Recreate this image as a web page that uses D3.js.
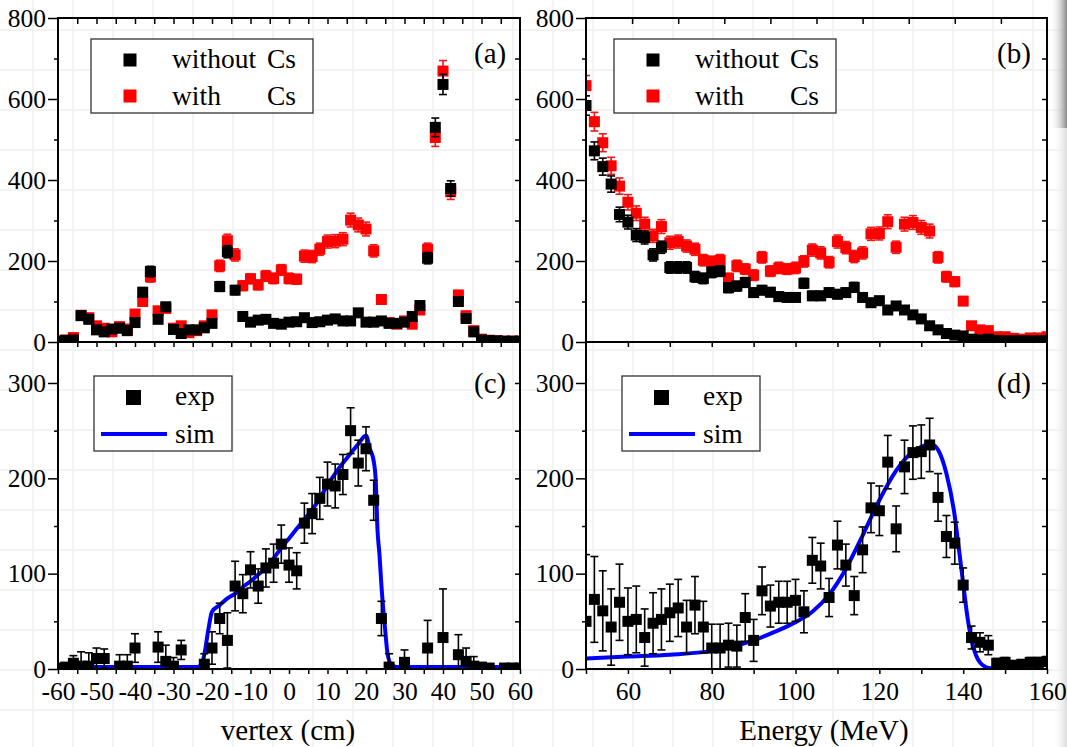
<!DOCTYPE html>
<html><head><meta charset="utf-8">
<script src="https://cdn.jsdelivr.net/npm/d3@7"></script>
<style>
body{margin:0;background:#fff}
svg{display:block}
text{font-family:"Liberation Serif","Times New Roman",serif;fill:#000}
</style>
</head><body>
<svg id="chart" width="1067" height="747"></svg>
<script>
// ---------------- DATA ----------------
// Panel (a): vertex distribution
const vertexBins = [-60,-58,-56,-54,-52,-50,-48,-46,-44,-42,-40,-38,-36,-34,-32,-30,-28,-26,-24,-22,-20,-18,-16,-14,-12,-10,-8,-6,-4,-2,0,2,4,6,8,10,12,14,16,18,20,22,24,26,28,30,32,34,36,38,40,42,44,46,48,50,52,54,56,58,60];
const vertexWithout = [2,4,5,65,56,30,25,32,34,28,48,123,174,56,87,31,21,30,30,35,46,137,223,128,63,49,54,56,46,44,49,50,60,48,50,54,57,52,52,72,49,49,52,46,46,49,63,90,207,530,636,379,100,58,25,5,4,3,2,2,2];
const vertexWithoutErr = [1,2,2,8,7,5,5,6,6,5,7,11,13,7,9,6,5,5,5,6,7,12,15,11,8,7,7,7,7,7,7,7,8,7,7,7,8,7,7,8,7,7,7,7,7,7,8,9,14,23,25,19,10,8,5,2,2,2,1,1,1];
const vertexWith = [3,5,11,66,60,40,34,25,38,32,69,100,161,77,83,34,40,23,28,40,67,188,250,215,139,156,141,163,157,178,157,155,212,211,229,248,249,254,301,289,279,225,105,48,44,52,44,79,229,505,669,371,116,65,28,7,4,3,2,2,2];
const vertexWithErr = [2,2,3,8,8,6,6,5,6,6,8,10,13,9,9,6,6,5,5,6,8,14,16,15,12,12,12,13,13,13,13,12,15,15,15,16,16,16,17,17,17,15,10,7,7,7,7,9,15,22,26,19,11,8,5,3,2,2,1,1,1];

// Panel (b): energy distribution
const energyBins = [50,52,54,56,58,60,62,64,66,68,70,72,74,76,78,80,82,84,86,88,90,92,94,96,98,100,102,104,106,108,110,112,114,116,118,120,122,124,126,128,130,132,134,136,138,140,142,144,146,148,150,152,154,156,158,160];
const energyWithout = [584,472,433,390,315,296,264,258,215,234,184,184,184,161,157,172,175,134,138,147,122,128,123,112,110,110,145,114,114,122,118,122,135,110,97,102,79,89,79,67,57,40,30,21,17,15,7,5,7,4,3,3,3,3,3,3];
const energyWithoutErr = [24,22,21,20,18,17,16,16,15,15,14,14,14,13,13,13,13,12,12,12,11,11,11,11,10,10,12,11,11,11,11,11,12,10,10,10,9,9,9,8,8,6,5,5,4,4,3,2,3,2,2,2,2,2,2,2];
const energyWith = [633,544,492,435,385,345,318,291,262,285,245,248,237,229,202,198,202,157,188,180,165,209,175,183,180,183,199,227,220,197,248,233,211,220,267,268,297,234,291,295,283,274,209,161,149,101,40,30,28,13,13,9,7,10,10,13];
const energyWithErr = [25,23,22,21,20,19,18,17,16,17,16,16,15,15,14,14,14,13,14,13,13,14,13,14,13,14,14,15,15,14,16,15,15,15,16,16,17,15,17,17,17,17,14,13,12,10,6,5,5,4,4,3,3,3,3,4];

// Panel (c): difference, vertex, exp vs sim
const vertexExpX = [-60,-58,-56,-54,-52,-50,-48,-44,-42,-40,-34,-32,-30,-28,-22,-20,-18,-16,-14,-12,-10,-8,-6,-4,-2,0,2,4,6,8,10,12,14,16,18,20,22,24,26,30,36,40,44,46,48,50,52,56,58,60];
const vertexExp = [1,2,6,3,3,11,11,3,3,22,23,8,3,20,5,22,53,30,87,79,104,87,106,111,131,109,103,153,163,179,194,192,204,250,216,231,177,53,2,7,22,33,15,8,3,2,1,1,1,1];
const vertexExpErr = [2,3,8,15,14,11,10,12,12,15,16,17,9,10,11,17,16,29,26,20,19,18,20,20,20,18,19,21,21,22,23,23,21,24,24,23,21,18,14,13,29,51,21,14,10,3,2,2,2,2];
const vertexSimX = [-60,-24,-23,-22,-21,-20,-18,-16,-14,-12,-10,-8,-6,-4,-2,0,2,4,6,8,10,12,14,16,18,20,21,22,22.5,23,23.5,24,25,25.6,26.5,28,60];
const vertexSim = [2,2,3,15,40,60,67,74,79,86,92,99,106,116,127,137,147,157,167,179,193,205,216,226,236,245,231,218,200,145,120,88,40,16,5,2,2];

// Panel (d): difference, energy, exp vs sim
const energyExp = [50,73,61,44,70,50,52,33,48,52,59,64,44,67,44,22,22,25,24,54,30,82,66,70,70,72,60,114,108,75,130,109,77,125,169,166,217,147,212,227,228,235,180,139,132,88,33,28,25,6,7,4,5,7,7,8];
const energyExpErr = [70,45,42,40,40,35,35,30,32,32,30,30,28,30,27,25,25,23,22,25,22,25,22,22,22,22,22,24,24,20,25,22,20,24,26,26,28,24,28,28,28,28,25,22,22,18,12,10,10,5,5,4,4,5,5,5];
const energySimX = [50,60,70,80,90,95,100,104,108,112,116,120,124,128,130,132,133,134,136,138,139,140,141,142,143,144,145,146,148];
const energySim = [11,13,15,19,30,39,49,60,78,105,140,177,208,228,233,236,235,230,205,160,125,90,55,30,15,7,3,1,0];

// Tick values
const vertexTickLabels = [-60,-50,-40,-30,-20,-10,0,10,20,30,40,50,60];
const energyTickLabels = [60,80,100,120,140,160];
const topYTicks = [0,200,400,600,800];
const botYTicks = [0,100,200,300];

// ---------------- DRAWING ----------------
const svg = d3.select("#chart");
const W = 1067, H = 747;
const TICK_FS = 25.5;

// faint paper grid in background
const bg = svg.append("g");
for (let x = -7; x < W; x += 40) bg.append("line").attr("x1",x).attr("x2",x).attr("y1",0).attr("y2",H).attr("stroke","#f3f3f3").attr("stroke-width",2);
for (let y = 30; y < H; y += 40) bg.append("line").attr("x1",0).attr("x2",W).attr("y1",y).attr("y2",y).attr("stroke","#f3f3f3").attr("stroke-width",2);

// right-edge page shading
const defs = svg.append("defs");
const g1 = defs.append("linearGradient").attr("id","shade1").attr("x1","0").attr("x2","1").attr("y1","0").attr("y2","0");
g1.append("stop").attr("offset","0").attr("stop-color","#fff").attr("stop-opacity",0);
g1.append("stop").attr("offset","1").attr("stop-color","#8a8a8a");
const g2 = defs.append("linearGradient").attr("id","shade2").attr("x1","0").attr("x2","1").attr("y1","0").attr("y2","0");
g2.append("stop").attr("offset","0").attr("stop-color","#fff").attr("stop-opacity",0);
g2.append("stop").attr("offset","1").attr("stop-color","#dcdcdc");
svg.append("rect").attr("x",1050).attr("y",0).attr("width",17).attr("height",128).attr("fill","url(#shade1)");
svg.append("rect").attr("x",1052).attr("y",128).attr("width",15).attr("height",H-128).attr("fill","url(#shade2)");

const xV = d3.scaleLinear().domain([-60,60]).range([58,520]);
const xE = d3.scaleLinear().domain([50,160]).range([586,1047]);
const yT = d3.scaleLinear().domain([0,800]).range([342,18]);
const yB = d3.scaleLinear().domain([0,343]).range([669,342]);

const fmt = d => String(d).replace("\u2212","-");

function styleAxis(g, fs) {
  g.select(".domain").remove();
  g.selectAll("line").attr("stroke","#000").attr("stroke-width",1.5);
  g.selectAll("text").attr("font-family","Liberation Serif, Times New Roman, serif").attr("font-size",fs).attr("fill","#000");
  g.attr("font-family",null);
}

function addAxis(axis, tx, ty, fs) {
  const g = svg.append("g").attr("transform",`translate(${tx},${ty})`).call(axis);
  styleAxis(g, fs || TICK_FS);
  return g;
}

function clip(id, x0, x1, y0, y1) {
  defs.append("clipPath").attr("id",id).append("rect").attr("x",x0).attr("y",y0).attr("width",x1-x0).attr("height",y1-y0);
}
clip("ca", 58, 520, 18, 342);
clip("cb", 586, 1047, 18, 342);
clip("cc", 58, 520, 342, 669);
clip("cd", 586, 1047, 342, 669);

function errorSeries(clipId, xs, ys, es, x, y, color, barColor, size) {
  const g = svg.append("g").attr("clip-path",`url(#${clipId})`);
  const rows = xs.map((v,i) => ({x:v, y:ys[i], e:es[i]}));
  const capW = 4;
  const eb = g.selectAll("g.eb").data(rows).join("g").attr("class","eb");
  eb.append("line")
    .attr("x1", d=>x(d.x)).attr("x2", d=>x(d.x))
    .attr("y1", d=>y(Math.max(0,d.y-d.e))).attr("y2", d=>y(d.y+d.e))
    .attr("stroke", barColor).attr("stroke-width",1.6);
  eb.append("line")
    .attr("x1", d=>x(d.x)-capW).attr("x2", d=>x(d.x)+capW)
    .attr("y1", d=>y(d.y+d.e)).attr("y2", d=>y(d.y+d.e))
    .attr("stroke", barColor).attr("stroke-width",1.6);
  eb.filter(d=>d.y-d.e>0).append("line")
    .attr("x1", d=>x(d.x)-capW).attr("x2", d=>x(d.x)+capW)
    .attr("y1", d=>y(d.y-d.e)).attr("y2", d=>y(d.y-d.e))
    .attr("stroke", barColor).attr("stroke-width",1.6);
  g.selectAll("rect.m").data(rows).join("rect").attr("class","m")
    .attr("x", d=>x(d.x)-size/2).attr("y", d=>y(d.y)-size/2)
    .attr("width",size).attr("height",size).attr("fill",color);
}

function simLine(clipId, xs, ys, x, y) {
  const pts = xs.map((v,i)=>[v, ys[i]]);
  svg.append("path").attr("clip-path",`url(#${clipId})`)
    .attr("d", d3.line().curve(d3.curveMonotoneX).x(d=>x(d[0])).y(d=>y(d[1]))(pts))
    .attr("fill","none").attr("stroke","#0000ff").attr("stroke-width",4).attr("stroke-linejoin","round");
}

// ---- data marks ----
errorSeries("ca", vertexBins, vertexWith, vertexWithErr, xV, yT, "#ff0000", "#f01818", 11);
errorSeries("ca", vertexBins, vertexWithout, vertexWithoutErr, xV, yT, "#000", "#000", 11);
errorSeries("cb", energyBins, energyWith, energyWithErr, xE, yT, "#ff0000", "#f01818", 11);
errorSeries("cb", energyBins, energyWithout, energyWithoutErr, xE, yT, "#000", "#000", 11);
simLine("cc", vertexSimX, vertexSim, xV, yB);
errorSeries("cc", vertexExpX, vertexExp, vertexExpErr, xV, yB, "#000", "#000", 11);
simLine("cd", energySimX, energySim, xE, yB);
errorSeries("cd", energyBins, energyExp, energyExpErr, xE, yB, "#000", "#000", 11);

// ---- axes ----
// Left panels
addAxis(d3.axisLeft(yT).tickValues(topYTicks).tickSize(10).tickPadding(2).tickFormat(fmt), 58, 0);
addAxis(d3.axisLeft(yT).tickValues([100,300,500,700]).tickSize(4).tickFormat(""), 58, 0);
addAxis(d3.axisRight(yT).tickValues([100,200,300,400,500,600,700]).tickSize(-5).tickFormat(""), 520, 0);
addAxis(d3.axisTop(xV).tickValues(d3.range(-55,60,5)).tickSize(-6).tickFormat(""), 0, 18);
addAxis(d3.axisTop(xV).tickValues(d3.range(-55,60,5)).tickSize(-5).tickFormat(""), 0, 342);
addAxis(d3.axisLeft(yB).tickValues(botYTicks).tickSize(10).tickPadding(2).tickFormat(fmt), 58, 0);
addAxis(d3.axisLeft(yB).tickValues([50,150,250]).tickSize(4).tickFormat(""), 58, 0);
addAxis(d3.axisRight(yB).tickValues([50,100,150,200,250,300]).tickSize(-5).tickFormat(""), 520, 0);
addAxis(d3.axisBottom(xV).tickValues(vertexTickLabels).tickSize(5).tickPadding(8).tickFormat(fmt), 0, 669);
addAxis(d3.axisBottom(xV).tickValues(d3.range(-55,60,10)).tickSize(5).tickFormat(""), 0, 669);

// Right panels
addAxis(d3.axisLeft(yT).tickValues(topYTicks).tickSize(10).tickPadding(2).tickFormat(fmt), 586, 0);
addAxis(d3.axisLeft(yT).tickValues([100,300,500,700]).tickSize(4).tickFormat(""), 586, 0);
addAxis(d3.axisRight(yT).tickValues([100,200,300,400,500,600,700]).tickSize(-5).tickFormat(""), 1047, 0);
addAxis(d3.axisTop(xE).tickValues(d3.range(1,10).map(k=>50+11*k)).tickSize(-6).tickFormat(""), 0, 18);
addAxis(d3.axisTop(xE).tickValues(d3.range(60,160,10)).tickSize(-5).tickFormat(""), 0, 342);
addAxis(d3.axisLeft(yB).tickValues(botYTicks).tickSize(10).tickPadding(2).tickFormat(fmt), 586, 0);
addAxis(d3.axisLeft(yB).tickValues([50,150,250]).tickSize(4).tickFormat(""), 586, 0);
addAxis(d3.axisRight(yB).tickValues([50,100,150,200,250,300]).tickSize(-5).tickFormat(""), 1047, 0);
addAxis(d3.axisBottom(xE).tickValues(energyTickLabels).tickSize(5).tickPadding(8).tickFormat(fmt), 0, 669);
addAxis(d3.axisBottom(xE).tickValues([50,70,90,110,130,150]).tickSize(5).tickFormat(""), 0, 669);

// frames
[[58,520,18,342],[586,1047,18,342],[58,520,342,669],[586,1047,342,669]].forEach(([x0,x1,y0,y1])=>{
  svg.append("rect").attr("x",x0).attr("y",y0).attr("width",x1-x0).attr("height",y1-y0)
    .attr("fill","none").attr("stroke","#000").attr("stroke-width",2);
});

// ---- panel labels ----
const panelLabels = ["(a)","(b)","(c)","(d)"];
[[474,63],[997,63],[474,393],[997,393]].forEach(([x,y],i)=>{
  svg.append("text").attr("x",x).attr("y",y).attr("font-size",29).text(panelLabels[i]);
});

// ---- axis titles ----
svg.append("text").attr("x",288).attr("y",740).attr("text-anchor","middle").attr("font-size",29).text("vertex (cm)");
svg.append("text").attr("x",824).attr("y",740).attr("text-anchor","middle").attr("font-size",29).text("Energy (MeV)");

// ---- legends ----
function legendTop(bx0, bx1, mx, tx, csx) {
  svg.append("rect").attr("x",bx0).attr("y",39).attr("width",bx1-bx0).attr("height",74)
    .attr("fill","#fff").attr("stroke","#333").attr("stroke-width",1.3);
  svg.append("rect").attr("x",mx-6.5).attr("y",53.5).attr("width",13).attr("height",13).attr("fill","#000");
  svg.append("rect").attr("x",mx-6.5).attr("y",89.5).attr("width",13).attr("height",13).attr("fill","#ff0000");
  const t1 = svg.append("text").attr("x",tx).attr("y",68).attr("font-size",27.5);
  t1.append("tspan").text("without ");
  t1.append("tspan").attr("x",csx).text("Cs");
  const t2 = svg.append("text").attr("x",tx).attr("y",105).attr("font-size",27.5);
  t2.append("tspan").text("with ");
  t2.append("tspan").attr("x",csx).text("Cs");
}
legendTop(91, 313, 130, 172, 267);
legendTop(614, 836, 653, 695, 790);

function legendBottom(dx) {
  svg.append("rect").attr("x",94+dx).attr("y",376).attr("width",138).attr("height",75)
    .attr("fill","#fff").attr("stroke","#333").attr("stroke-width",1.3);
  svg.append("rect").attr("x",126+dx).attr("y",390).attr("width",15).attr("height",15).attr("fill","#000");
  svg.append("text").attr("x",175+dx).attr("y",405).attr("font-size",27.5).text("exp");
  svg.append("line").attr("x1",101+dx).attr("x2",167+dx).attr("y1",434).attr("y2",434).attr("stroke","#0000ff").attr("stroke-width",4);
  svg.append("text").attr("x",175+dx).attr("y",443).attr("font-size",27.5).text("sim");
}
legendBottom(0);
legendBottom(528);
</script>
</body></html>
